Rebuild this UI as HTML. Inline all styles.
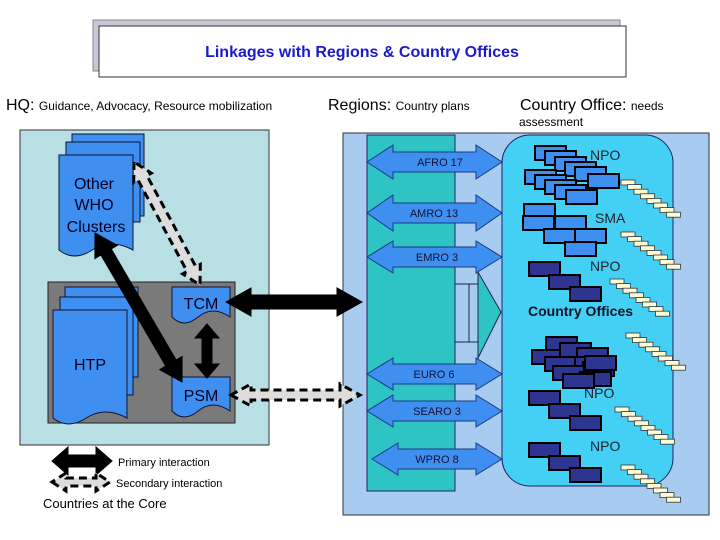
<!DOCTYPE html>
<html><head><meta charset="utf-8"><style>
body{margin:0;background:#fff;}
svg{display:block;font-family:"Liberation Sans",sans-serif;}
</style></head><body>
<svg id="s" width="720" height="540" viewBox="0 0 720 540" xmlns="http://www.w3.org/2000/svg">
<rect x="93" y="20" width="527" height="51" fill="#c8c8d8" stroke="#888"/>
<rect x="99" y="26" width="527" height="51" fill="#fff" stroke="#333"/>
<text x="362" y="57" text-anchor="middle" font-size="16" font-weight="bold" fill="#1a1acc">Linkages with Regions &amp; Country Offices</text>
<text x="6" y="110" font-size="16">HQ: <tspan font-size="12">Guidance, Advocacy, Resource mobilization</tspan></text>
<text x="328" y="110" font-size="16">Regions: <tspan font-size="12">Country plans</tspan></text>
<text x="520" y="110" font-size="16">Country Office: <tspan font-size="12">needs</tspan></text>
<text x="519" y="126" font-size="12">assessment</text>
<rect x="20" y="130" width="249" height="315" fill="#b8e0e4" stroke="#333"/>
<rect x="343" y="133" width="366" height="382" fill="#a8ccf0" stroke="#333"/>
<rect x="367" y="135" width="88" height="356" fill="#2ec4c4" stroke="#226"/>
<rect x="502" y="135" width="171" height="351" rx="28" fill="#44d0f4" stroke="#226"/>
<polygon points="478,272 501,312 478,358" fill="#2ec4c4" stroke="#224"/>
<line x1="469" y1="284" x2="469" y2="342" stroke="#224"/>
<rect x="455" y="266" width="23" height="18" fill="#a8ccf0" stroke="#224"/>
<rect x="455" y="342" width="23" height="24" fill="#a8ccf0" stroke="#224"/>
<rect x="48" y="282" width="187" height="141" fill="#7a7a7a" stroke="#222"/>
<g id="g"></g>
<text x="94" y="189" text-anchor="middle" font-size="16" fill="#002">Other</text>
<text x="94" y="210" text-anchor="middle" font-size="16" fill="#002">WHO</text>
<text x="96" y="232" text-anchor="middle" font-size="16" fill="#002">Clusters</text>
<text x="90" y="370" text-anchor="middle" font-size="16" fill="#002">HTP</text>
<text x="201" y="309" text-anchor="middle" font-size="16" fill="#002">TCM</text>
<text x="201" y="401" text-anchor="middle" font-size="16" fill="#002">PSM</text>
<text x="440" y="166" text-anchor="middle" font-size="11" fill="#113">AFRO 17</text>
<text x="434" y="217" text-anchor="middle" font-size="11" fill="#113">AMRO 13</text>
<text x="437" y="261" text-anchor="middle" font-size="11" fill="#113">EMRO 3</text>
<text x="434" y="378" text-anchor="middle" font-size="11" fill="#113">EURO 6</text>
<text x="437" y="415" text-anchor="middle" font-size="11" fill="#113">SEARO 3</text>
<text x="437" y="463" text-anchor="middle" font-size="11" fill="#113">WPRO 8</text>
<text x="590" y="160" font-size="14" fill="#223">NPO</text>
<text x="595" y="223" font-size="14" fill="#223">SMA</text>
<text x="590" y="271" font-size="14" fill="#223">NPO</text>
<text x="528" y="316" font-size="14" font-weight="bold" fill="#112">Country Offices</text>
<text x="584" y="398" font-size="14" fill="#223">NPO</text>
<text x="590" y="451" font-size="14" fill="#223">NPO</text>
<text x="118" y="466" font-size="11">Primary interaction</text>
<text x="116" y="487" font-size="11">Secondary interaction</text>
<text x="43" y="508" font-size="13">Countries at the Core</text>
</svg>
<script>
var g=document.getElementById('g'),h='';
function doc(x,y,w,hh){return '<path d="M'+x+','+y+'h'+w+'v'+hh+'q'+(-w*0.3)+',-12 '+(-w*0.55)+',0t'+(-w*0.45)+',0z" fill="#3f8ff0" stroke="#113"/>';}
function page(x,y,w,hh){return '<rect x="'+x+'" y="'+y+'" width="'+w+'" height="'+hh+'" fill="#3f8ff0" stroke="#113"/>';}
h+=page(72,134,72,82)+page(66,142,74,80)+doc(59,155,74,95);
h+=page(65,287,73,90)+page(60,297,73,98)+doc(53,310,74,108);
h+=doc(172,287,58,30)+doc(172,377,58,34);
function dbl(x1,y1,x2,y2,sw,hw,hl,fill,stroke,dash){
 var dx=x2-x1,dy=y2-y1,L=Math.hypot(dx,dy),ux=dx/L,uy=dy/L,px=-uy,py=ux;
 function P(a,b){return (x1+ux*a+px*b).toFixed(1)+','+(y1+uy*a+py*b).toFixed(1);}
 var pts=[P(0,0),P(hl,hw),P(hl,sw),P(L-hl,sw),P(L-hl,hw),P(L,0),P(L-hl,-hw),P(L-hl,-sw),P(hl,-sw),P(hl,-hw)];
 return '<polygon points="'+pts.join(' ')+'" fill="'+fill+'" stroke="'+stroke+'" stroke-width="'+(dash?3:1)+'"'+(dash?' stroke-dasharray="8,5"':'')+'/>';
}
var B='#3f8ff0',S='#1a3a80';
h+=dbl(367,162,502,162,10,17,26,B,S);
h+=dbl(367,213,502,213,10,18,26,B,S);
h+=dbl(367,257,502,257,10,16,26,B,S);
h+=dbl(367,374,502,374,10,16,26,B,S);
h+=dbl(367,411,502,411,10,16,26,B,S);
h+=dbl(372,459,502,459,10,16,26,B,S);
h+=dbl(95,233,182,382,6,13,22,'#000','#000');
h+=dbl(226,302,362,302,7,14,25,'#000','#000');
h+=dbl(207,324,207,378,5,12,14,'#000','#000');
h+=dbl(134,162,200,285,5,10,18,'#ddd','#000',1);
h+=dbl(231,395,360,395,5,11,20,'#ddd','#000',1);
h+=dbl(52,461,112,461,6,14,16,'#000','#000');
h+=dbl(52,482,110,482,4,9,14,'#ddd','#000',1);
function blk(x,y,c){return '<rect x="'+x+'" y="'+y+'" width="31" height="14" fill="'+c+'" stroke="#000" stroke-width="2"/>';}
var L1='#3f8ff0',D='#2e3590';
[[535,146],[545,151],[555,157],[565,162],[575,167],[525,170],[535,175],[545,180],[555,185],[588,174],[566,190]].forEach(function(p){h+=blk(p[0],p[1],L1);});
[[524,204],[523,216],[555,216],[544,229],[575,229],[565,242]].forEach(function(p){h+=blk(p[0],p[1],L1);});
[[529,262],[549,275],[570,287]].forEach(function(p){h+=blk(p[0],p[1],D);});
[[546,337],[532,350],[560,343],[577,348],[545,357],[575,357],[583,362],[553,366],[585,356],[580,372],[563,374]].forEach(function(p){h+=blk(p[0],p[1],D);});
[[529,391],[549,404],[570,416]].forEach(function(p){h+=blk(p[0],p[1],D);});
[[529,443],[549,456],[570,468]].forEach(function(p){h+=blk(p[0],p[1],D);});
function stair(x,y,n){var s='';for(var i=0;i<n;i++)s+='<rect x="'+(x+i*6.5)+'" y="'+(y+i*4.6)+'" width="14" height="5" fill="#fffbd0" stroke="#334" stroke-width="0.8"/>';return s;}
h+=stair(621,180,8);h+=stair(621,232,8);h+=stair(610,279,8);h+=stair(626,333,8);h+=stair(615,407,8);h+=stair(621,465,8);
g.innerHTML=h;
</script>
</body></html>
